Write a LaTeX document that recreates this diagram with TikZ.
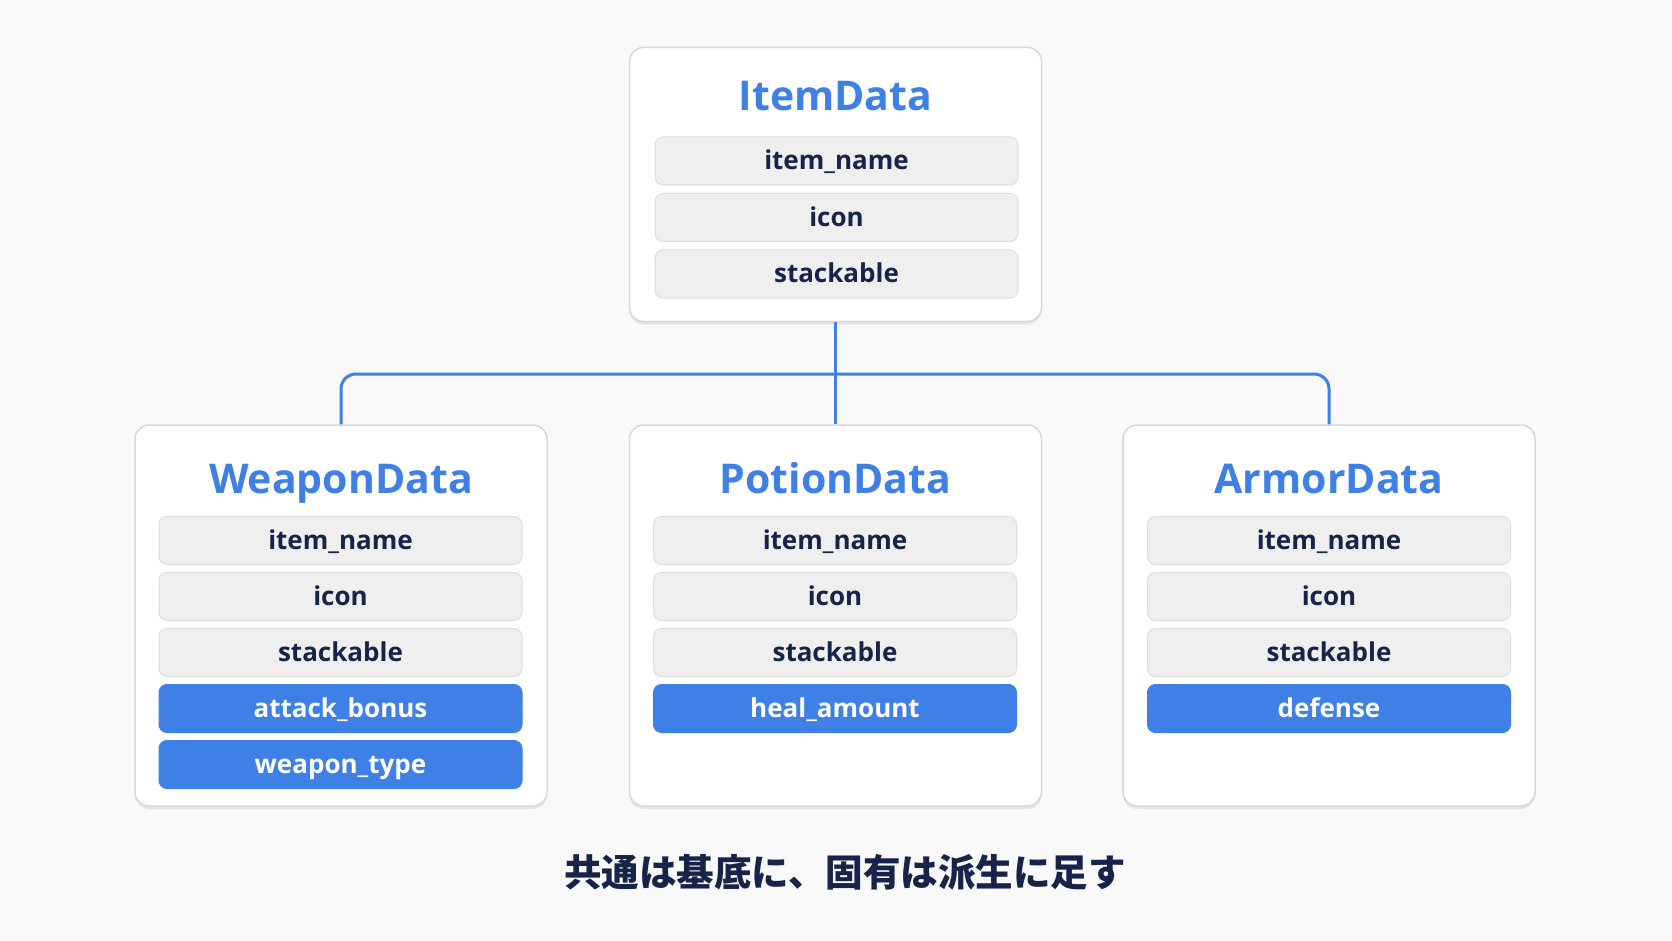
\documentclass[tikz,border=0pt]{standalone}
\usepackage{fontspec}
\setmainfont{Open Sans}
\newfontfamily\jpfont{Noto Sans CJK JP}
\usetikzlibrary{positioning,shadows}

\definecolor{accent}{HTML}{3F80E6}
\definecolor{fieldfill}{HTML}{EFEFEF}
\definecolor{fieldline}{HTML}{DEDEDE}
\definecolor{boxline}{HTML}{D8D8D8}
\definecolor{navy}{HTML}{16244A}
\definecolor{paper}{HTML}{F9F9FA}

\begin{document}
\begin{tikzpicture}[
    x=1pt, y=-1pt,
    classbox/.style={draw=boxline, fill=white, line width=1.5pt, rounded corners=14pt,
      minimum width=412pt, drop shadow={shadow xshift=0pt, shadow yshift=-3pt, opacity=0.08, fill=black}},
    title/.style={text=accent, anchor=base, font=\bfseries\fontsize{41}{48}\selectfont},
    field/.style={draw=fieldline, fill=fieldfill, line width=1pt, rounded corners=8pt,
      minimum width=363pt, minimum height=48pt, text height=22pt, text depth=4pt,
      inner sep=0pt, text=navy, font=\bfseries\fontsize{26}{30}\selectfont},
    extra/.style={field, draw=accent, fill=accent, text=white},
    link/.style={accent, line width=3pt, rounded corners=15pt}
    ]

% page
\useasboundingbox[fill=paper] (0,0) rectangle (1672,941);

% base class
\node[classbox, minimum height=274pt] (itembox) at (835.5,184.5) {};
\node[title] (itemtitle) at (835.5,111) {ItemData};
\node[field] (itemname) at (836.5,161) {item\_name};
\node[field, below=7.5pt of itemname] (itemicon) {icon};
\node[field, below=7.5pt of itemicon] (itemstack) {stackable};

% derived classes
\node[classbox, minimum height=381pt] (weaponbox) at (341,615.5) {};
\node[classbox, minimum height=381pt] (potionbox) at (835.5,615.5) {};
\node[classbox, minimum height=381pt] (armorbox)  at (1329,615.5) {};

\node[title] (weapontitle) at (341,493) {WeaponData};
\node[field] (weaponname) at (340.5,540.5) {item\_name};
\node[field, below=7pt of weaponname] (weaponicon) {icon};
\node[field, below=7pt of weaponicon] (weaponstack) {stackable};
\node[extra, below=7pt of weaponstack] (attack) {attack\_bonus};
\node[extra, below=7pt of attack] (weapontype) {weapon\_type};

\node[title] (potiontitle) at (835.5,493) {PotionData};
\node[field] (potionname) at (835,540.5) {item\_name};
\node[field, below=7pt of potionname] (potionicon) {icon};
\node[field, below=7pt of potionicon] (potionstack) {stackable};
\node[extra, below=7pt of potionstack] (heal) {heal\_amount};

\node[title] (armortitle) at (1329,493) {ArmorData};
\node[field] (armorname) at (1329,540.5) {item\_name};
\node[field, below=7pt of armorname] (armoricon) {icon};
\node[field, below=7pt of armoricon] (armorstack) {stackable};
\node[extra, below=7pt of armorstack] (defense) {defense};

% inheritance lines
\coordinate (fork) at (835.5,374);
\draw[link] (weaponbox.north) |- (fork) -| (armorbox.north);
\draw[link] (itembox.south) -- (potionbox.north);

% caption
\node[text=navy, font=\jpfont\bfseries\fontsize{37.5}{40}\selectfont] (caption) at (845,872)
  {共通は基底に、固有は派生に足す};

\end{tikzpicture}
\end{document}
